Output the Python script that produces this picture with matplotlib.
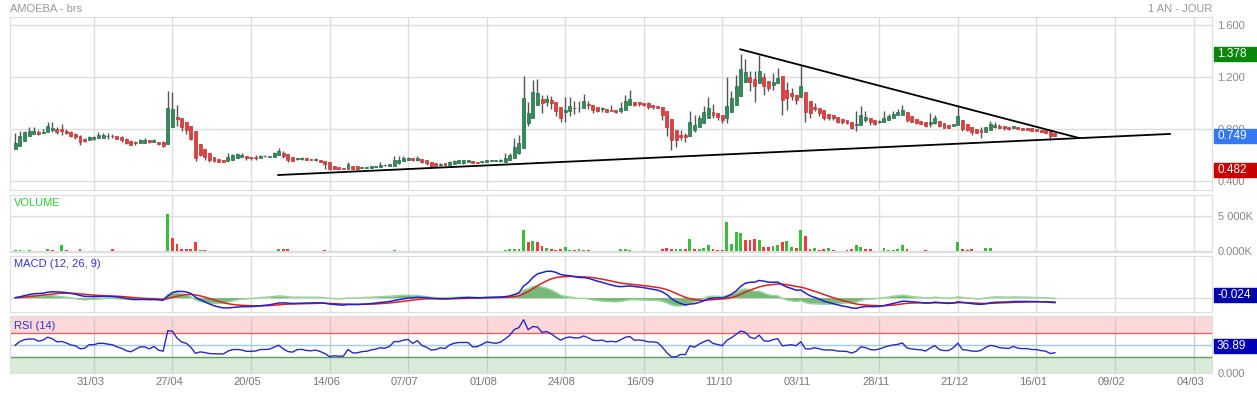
import numpy as np
import pandas as pd
import matplotlib
matplotlib.use("Agg")
import matplotlib.pyplot as plt
from matplotlib.patches import Rectangle
from matplotlib.transforms import IdentityTransform, ScaledTranslation

plt.rcParams['font.family'] = ['Liberation Sans', 'DejaVu Sans']

# daily candles, one per trading day
opens = [0.646,0.667,0.705,0.744,0.759,0.779,0.767,0.774,0.790,0.803,
         0.797,0.787,0.777,0.762,0.746,0.726,0.713,0.721,0.728,0.733,
         0.744,0.746,0.746,0.738,0.723,0.708,0.697,0.690,0.695,0.713,
         0.700,0.703,0.697,0.682,0.813,0.895,0.885,0.856,0.826,0.787,
         0.685,0.649,0.615,0.585,0.572,0.564,0.551,0.559,0.574,0.582,
         0.595,0.587,0.587,0.577,0.590,0.582,0.585,0.600,0.615,0.608,
         0.587,0.570,0.572,0.574,0.572,0.562,0.564,0.554,0.544,0.515,
         0.510,0.503,0.490,0.518,0.513,0.500,0.503,0.500,0.505,0.505,
         0.520,0.513,0.513,0.538,0.551,0.562,0.574,0.559,0.572,0.564,
         0.549,0.538,0.526,0.536,0.526,0.531,0.536,0.541,0.544,0.556,
         0.549,0.546,0.546,0.556,0.554,0.556,0.549,0.564,0.577,0.615,
         0.651,0.846,0.882,0.987,1.031,1.010,1.026,1.010,0.969,0.928,
         0.936,0.960,0.960,0.959,0.990,0.985,0.969,0.954,0.956,0.949,
         0.944,0.936,0.944,0.982,1.010,1.005,0.997,0.997,0.987,0.979,
         0.972,0.941,0.879,0.795,0.754,0.754,0.744,0.795,0.815,0.844,
         0.882,0.931,0.923,0.908,0.882,0.931,0.985,1.051,1.159,1.200,
         1.185,1.154,1.200,1.169,1.136,1.151,1.205,1.103,1.074,1.062,
         1.044,1.085,1.018,0.969,0.962,0.946,0.918,0.908,0.892,0.877,
         0.867,0.851,0.831,0.831,0.867,0.882,0.872,0.854,0.851,0.867,
         0.882,0.908,0.908,0.933,0.897,0.877,0.862,0.856,0.836,0.846,
         0.862,0.846,0.831,0.821,0.831,0.872,0.841,0.815,0.800,0.790,
         0.774,0.790,0.815,0.826,0.826,0.815,0.810,0.815,0.808,0.808,
         0.805,0.800,0.795,0.790,0.785,0.769]
highs = [0.769,0.787,0.787,0.813,0.813,0.795,0.803,0.856,0.856,0.815,
         0.841,0.800,0.782,0.769,0.756,0.733,0.749,0.749,0.779,0.767,
         0.769,0.764,0.746,0.744,0.728,0.713,0.705,0.726,0.728,0.718,
         0.723,0.703,0.710,1.095,1.087,0.987,0.885,0.856,0.826,0.787,
         0.685,0.649,0.615,0.585,0.572,0.564,0.615,0.610,0.615,0.618,
         0.595,0.587,0.600,0.603,0.597,0.595,0.621,0.656,0.633,0.608,
         0.587,0.580,0.582,0.574,0.572,0.574,0.564,0.554,0.544,0.515,
         0.510,0.503,0.549,0.518,0.513,0.508,0.510,0.513,0.518,0.544,
         0.528,0.533,0.595,0.590,0.590,0.584,0.574,0.590,0.572,0.564,
         0.549,0.538,0.536,0.536,0.551,0.559,0.564,0.564,0.559,0.556,
         0.549,0.554,0.562,0.564,0.562,0.569,0.615,0.615,0.733,0.751,
         1.205,1.008,1.179,1.185,1.059,1.059,1.051,1.010,0.969,1.046,
         1.046,1.018,1.018,1.072,1.013,0.985,0.969,0.972,0.956,0.982,
         0.949,1.005,1.062,1.097,1.010,1.010,0.997,1.008,0.987,0.979,
         0.972,0.941,0.879,0.795,0.795,0.769,0.936,0.910,0.910,0.974,
         1.046,0.995,0.923,0.908,1.200,1.090,1.218,1.379,1.338,1.244,
         1.244,1.372,1.231,1.169,1.231,1.272,1.205,1.164,1.115,1.062,
         1.295,1.085,1.018,1.000,0.962,0.946,0.918,0.908,0.892,0.877,
         0.867,0.851,0.936,0.974,0.938,0.882,0.872,0.872,0.938,0.918,
         0.938,0.954,0.985,0.933,0.897,0.877,0.862,0.856,0.923,0.908,
         0.862,0.846,0.831,0.841,0.985,0.872,0.841,0.815,0.800,0.815,
         0.815,0.862,0.851,0.836,0.826,0.815,0.826,0.815,0.808,0.808,
         0.805,0.800,0.795,0.790,0.785,0.769]
lows = [0.646,0.667,0.705,0.744,0.759,0.751,0.767,0.774,0.779,0.759,
        0.751,0.759,0.736,0.723,0.674,0.700,0.713,0.718,0.728,0.733,
        0.723,0.728,0.720,0.700,0.685,0.674,0.677,0.690,0.690,0.690,
        0.700,0.677,0.659,0.682,0.813,0.826,0.782,0.759,0.718,0.551,
        0.590,0.564,0.546,0.544,0.544,0.544,0.551,0.559,0.574,0.582,
        0.564,0.559,0.562,0.577,0.582,0.582,0.585,0.600,0.577,0.546,
        0.551,0.559,0.562,0.559,0.559,0.551,0.549,0.495,0.482,0.495,
        0.490,0.490,0.490,0.487,0.487,0.497,0.497,0.497,0.505,0.505,
        0.513,0.513,0.513,0.533,0.551,0.562,0.554,0.554,0.536,0.526,
        0.503,0.513,0.515,0.523,0.526,0.531,0.536,0.533,0.544,0.536,
        0.538,0.541,0.546,0.554,0.554,0.549,0.549,0.559,0.577,0.610,
        0.651,0.821,0.882,0.987,0.923,0.974,0.954,0.903,0.856,0.851,
        0.897,0.913,0.931,0.959,0.956,0.923,0.928,0.928,0.928,0.944,
        0.923,0.923,0.944,0.982,0.974,0.974,0.974,0.956,0.956,0.959,
        0.872,0.744,0.641,0.659,0.713,0.703,0.744,0.774,0.815,0.844,
        0.882,0.882,0.872,0.846,0.846,0.931,0.985,1.051,1.159,1.090,
        1.010,1.154,1.064,1.090,1.100,1.151,0.905,0.944,1.026,0.992,
        1.044,0.851,0.885,0.941,0.897,0.872,0.872,0.872,0.846,0.841,
        0.836,0.800,0.782,0.831,0.856,0.831,0.831,0.849,0.851,0.867,
        0.882,0.908,0.908,0.851,0.851,0.836,0.836,0.815,0.815,0.841,
        0.815,0.805,0.810,0.821,0.831,0.785,0.785,0.754,0.769,0.728,
        0.774,0.790,0.810,0.805,0.790,0.790,0.805,0.800,0.795,0.790,
        0.785,0.785,0.774,0.769,0.718,0.744]
closes = [0.692,0.746,0.777,0.787,0.787,0.764,0.779,0.826,0.810,0.777,
          0.782,0.767,0.744,0.736,0.700,0.705,0.741,0.741,0.756,0.756,
          0.749,0.744,0.726,0.713,0.690,0.679,0.695,0.713,0.713,0.697,
          0.713,0.682,0.672,0.962,0.956,0.874,0.815,0.795,0.723,0.577,
          0.603,0.585,0.559,0.551,0.549,0.546,0.582,0.603,0.605,0.597,
          0.574,0.574,0.577,0.592,0.592,0.595,0.613,0.631,0.592,0.559,
          0.551,0.572,0.574,0.562,0.559,0.564,0.549,0.528,0.490,0.495,
          0.490,0.490,0.531,0.495,0.495,0.503,0.505,0.513,0.518,0.526,
          0.523,0.533,0.564,0.564,0.574,0.579,0.559,0.577,0.549,0.536,
          0.515,0.518,0.528,0.523,0.544,0.554,0.559,0.559,0.559,0.536,
          0.538,0.549,0.562,0.559,0.556,0.562,0.579,0.603,0.662,0.692,
          1.038,0.926,1.085,1.079,0.997,1.033,0.997,0.938,0.882,0.949,
          0.979,0.962,0.962,1.018,0.987,0.949,0.941,0.954,0.928,0.936,
          0.928,0.964,1.015,1.033,0.985,0.990,0.982,0.967,0.967,0.959,
          0.905,0.813,0.713,0.713,0.741,0.736,0.856,0.833,0.885,0.928,
          0.964,0.910,0.892,0.872,0.974,1.038,1.133,1.262,1.241,1.159,
          1.128,1.246,1.128,1.115,1.164,1.195,1.021,1.036,1.051,1.026,
          1.133,0.928,0.923,0.956,0.923,0.887,0.887,0.882,0.856,0.851,
          0.846,0.805,0.833,0.908,0.892,0.851,0.841,0.856,0.882,0.903,
          0.918,0.928,0.949,0.872,0.856,0.846,0.841,0.821,0.856,0.887,
          0.826,0.810,0.810,0.841,0.903,0.800,0.790,0.774,0.769,0.779,
          0.815,0.841,0.831,0.810,0.805,0.800,0.821,0.800,0.795,0.795,
          0.785,0.785,0.774,0.769,0.744,0.749]
# volume in thousands
volumes = [140,140,50,190,100,100,60,380,140,60,
           850,190,100,60,330,60,50,40,40,40,
           40,280,60,90,100,60,50,40,40,40,
           40,40,50,5290,1890,1040,380,330,380,1320,
           190,190,100,60,50,40,60,50,40,40,
           30,30,40,40,30,40,60,330,280,280,
           60,40,30,30,30,30,40,190,60,40,
           40,30,60,40,30,30,30,40,40,50,
           30,40,190,60,50,40,30,40,40,30,
           30,30,30,30,40,40,30,30,30,30,
           30,30,40,30,30,30,190,330,280,280,
           3020,1270,1420,1320,750,420,330,190,280,660,
           240,190,280,190,150,100,100,60,60,60,
           60,280,330,240,60,60,60,60,60,60,
           330,420,330,380,280,330,1750,330,330,470,
           850,280,190,150,4150,990,2740,2600,1560,1650,
           1790,1600,620,620,800,900,1270,1400,570,520,
           3020,2100,330,420,190,380,420,190,60,100,
           190,330,850,610,280,280,50,50,420,190,
           150,330,900,280,100,60,100,120,100,100,
           60,60,60,60,1320,280,190,330,100,60,
           470,470,40,40,40,40,40,40,40,40,
           40,40,40,40,60,60]

date_labels = ['31/03','27/04','20/05','14/06','07/07','01/08','24/08','16/09',
               '11/10','03/11','28/11','21/12','16/01','09/02','04/03']
date_pos = [17,34,51,68,85,102,119,136,153,170,187,204,221,238,255]

# hand drawn trend lines (bar index, price)
support_x = [56.9, 249.9]
support_y = [0.446, 0.762]
resist_x = [156.9, 230.2]
resist_y = [1.413, 0.731]

# labels on the right side
last_price = 0.749
high_price = 1.378
low_price = 0.482
macd_label = '-0.024'
rsi_label = '36.89'

W, H = 1257, 394
fig = plt.figure(figsize=(W/100, H/100), dpi=100)

def panel(y0, y1):
    return fig.add_axes([10/W, 1-y1/H, 1202/W, (y1-y0)/H])

ax_p = panel(17, 190)
ax_v = panel(195, 252)
ax_m = panel(256, 312)
ax_r = panel(316, 373)

x = np.arange(len(closes))
o = np.array(opens); h = np.array(highs); l = np.array(lows); c = np.array(closes)
up = c >= o

for ax in [ax_p, ax_v, ax_m, ax_r]:
    ax.set_xlim(-1.15, 259.0)
    ax.set_xticks(date_pos)
    ax.grid(axis='x', color='#dddddd', lw=1)
    ax.tick_params(axis='x', length=0, labelbottom=False)
    for s in ax.spines.values():
        s.set_color('#dddddd')

# price panel
ax_p.set_ylim(0.3308, 1.6615)
ax_p.set_yticks([0.4, 0.8, 1.2, 1.6])
ax_p.set_yticklabels(['0.400', '0.800', '1.200', '1.600'])
ax_p.grid(axis='y', color='#dddddd', lw=1)
ax_p.vlines(x, l, h, color='#555555', lw=1, zorder=2)
body = np.maximum(np.abs(c - o), 0.005)
ax_p.bar(x, body, bottom=np.minimum(o, c), width=0.64,
         color=np.where(up, '#338a5c', '#e2403f'),
         edgecolor=np.where(up, '#246b44', '#c03333'), lw=0.5, zorder=3)
ax_p.plot(support_x, support_y, color='black', lw=1.3, zorder=4)
ax_p.plot(resist_x, resist_y, color='black', lw=1.3, zorder=4)

# volume panel, coloured by close against previous close
vcol = ['#3cbc3c' if (i == 0 and up[0]) or (i > 0 and c[i] >= c[i-1]) else '#f03c3c'
        for i in range(len(c))]
ax_v.bar(x, volumes, width=0.62, color=vcol, zorder=3)
ax_v.set_ylim(-100, 7970)
ax_v.set_yticks([0, 5000])
ax_v.set_yticklabels(['0.000K', '5 000K'])
ax_v.grid(axis='y', color='#dddddd', lw=1)

# MACD (12, 26, 9)
cs = pd.Series(closes)
macd = cs.ewm(span=12, adjust=False).mean() - cs.ewm(span=26, adjust=False).mean()
signal = macd.ewm(span=9, adjust=False).mean()
hist = macd - signal
s = macd.max() / 26.5
ax_m.set_ylim(-14.3*s, 41.7*s)
ax_m.axhline(0, color='#dddddd', lw=1)
ax_m.fill_between(x, 0, hist, color='#3f9a3f', alpha=0.7, lw=0, zorder=2)
ax_m.plot(x, hist, color='#9ad49a', lw=1, zorder=2)
ax_m.plot(x, signal, color='#dd2222', lw=1.1, zorder=3)
ax_m.plot(x, macd, color='#2222cc', lw=1.1, zorder=4)
ax_m.set_yticks([])

# RSI (14), Wilder smoothing; the first average starts neutral
d = cs.diff().fillna(0)
gain = d.clip(lower=0)
loss = -d.clip(upper=0)
gain.iloc[0] = 0.015
loss.iloc[0] = 0.015
gain = gain.ewm(alpha=1/14, adjust=False).mean()
loss = loss.ewm(alpha=1/14, adjust=False).mean()
rsi = 100 - 100/(1 + gain/loss)
ax_r.set_ylim(3.5, 98.5)
ax_r.axhspan(70, 98.5, color='#fdd8d8', lw=0, zorder=0)
ax_r.axhspan(3.5, 30, color='#d9ecd9', lw=0, zorder=0)
ax_r.axhline(70, color='#e06666', lw=1)
ax_r.axhline(50, color='#9fcbee', lw=1)
ax_r.axhline(30, color='#5c9e5c', lw=1)
ax_r.grid(axis='x', color='#cccccc', lw=1)
ax_r.plot(x, rsi, color='#2929c8', lw=1, zorder=3)
ax_r.set_yticks([3.5])
ax_r.set_yticklabels(['0.000'])
ax_r.tick_params(axis='x', labelbottom=True, labelsize=8, labelcolor='#777777', pad=3)
ax_r.set_xticklabels(date_labels)
for lab in ax_r.get_xticklabels():
    lab.set_transform(lab.get_transform() + ScaledTranslation(-0.035, 0, fig.dpi_scale_trans))

for ax in [ax_p, ax_v, ax_m, ax_r]:
    ax.yaxis.tick_right()
    ax.tick_params(axis='y', length=0, pad=4, labelsize=8, labelcolor='#888888')

# titles
fig.text(10/W, 1-9/H, 'AMOEBA - brs', color='#999999', fontsize=8, va='center')
fig.text(1212/W, 1-9/H, '1 AN - JOUR', color='#999999', fontsize=8, va='center', ha='right')
fig.text(14/W, 1-203/H, 'VOLUME', color='#33cc33', fontsize=8, va='center')
fig.text(14/W, 1-264/H, 'MACD (12, 26, 9)', color='#3333cc', fontsize=8, va='center')
fig.text(14/W, 1-326/H, 'RSI (14)', color='#3333cc', fontsize=8, va='center')

# value boxes on the right
def value_box(yd, txt, col):
    fig.add_artist(Rectangle((1214, yd-7), 43, 14, color=col, transform=IdentityTransform(), zorder=5))
    fig.text(1217, yd, txt, color='white', fontsize=8.5, va='center',
             transform=IdentityTransform(), zorder=6)

for val, col in [(high_price, '#0a870a'), (last_price, '#3478f6'), (low_price, '#c80000')]:
    yd = ax_p.transData.transform((0, val))[1]
    value_box(yd, '%.3f' % val, col)
value_box(H-295, macd_label, '#0000aa')
value_box(H-346, rsi_label, '#0000b4')

fig.savefig('out.png', dpi=100)
